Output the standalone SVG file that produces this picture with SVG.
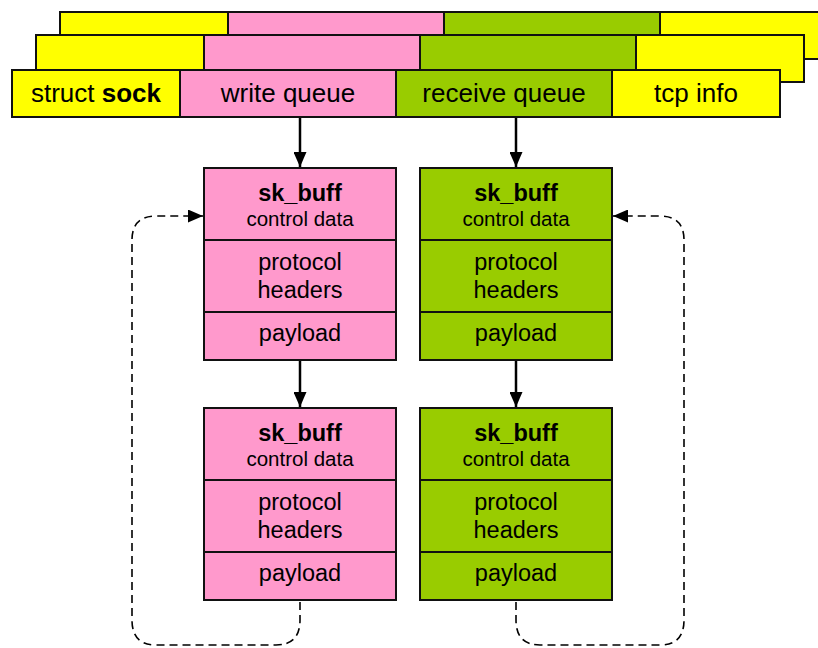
<svg xmlns="http://www.w3.org/2000/svg" width="818" height="648" viewBox="0 0 818 648">
<defs>
<marker id="ah" viewBox="0 0 15 13" refX="15" refY="6.5" markerWidth="15" markerHeight="13" markerUnits="userSpaceOnUse" orient="auto">
<path d="M0,0 L15,6.5 L0,13 Z" fill="#000"/>
</marker>
</defs>
<style>
.b{stroke:#111;stroke-width:2}
.y{fill:#ffff00}
.p{fill:#ff99cc}
.g{fill:#99cc00}
text{font-family:"Liberation Sans",Arial,sans-serif;fill:#000;text-anchor:middle}
.t{font-size:26px}
.m{font-size:23.5px}
.s{font-size:20.5px}
.bold{font-weight:bold}
.c{fill:none;stroke:#000;stroke-width:2.5}
.d{fill:none;stroke:#000;stroke-width:1.6;stroke-dasharray:8,5}
</style>
<g id="sock-back2">
<rect class="b y" x="60" y="12" width="168" height="47"/>
<rect class="b p" x="228" y="12" width="216" height="47"/>
<rect class="b g" x="444" y="12" width="216" height="47"/>
<rect class="b y" x="660" y="12" width="168" height="47"/>
</g>
<g id="sock-back1">
<rect class="b y" x="36" y="35" width="168" height="47"/>
<rect class="b p" x="204" y="35" width="216" height="47"/>
<rect class="b g" x="420" y="35" width="216" height="47"/>
<rect class="b y" x="636" y="35" width="168" height="47"/>
</g>
<g id="struct-sock">
<rect class="b y" x="12" y="70" width="168" height="47"/>
<text class="t" x="96" y="102">struct <tspan class="bold">sock</tspan></text>
</g>
<g id="write-queue">
<rect class="b p" x="180" y="70" width="216" height="47"/>
<text class="t" x="288" y="102">write queue</text>
</g>
<g id="receive-queue">
<rect class="b g" x="396" y="70" width="216" height="47"/>
<text class="t" x="504" y="102">receive queue</text>
</g>
<g id="tcp-info">
<rect class="b y" x="612" y="70" width="168" height="47"/>
<text class="t" x="696" y="102">tcp info</text>
</g>
<g id="skb-w1">
<rect class="b p" x="204" y="168" width="192" height="72"/>
<rect class="b p" x="204" y="240" width="192" height="72"/>
<rect class="b p" x="204" y="312" width="192" height="48"/>
<text class="m bold" x="300" y="201">sk_buff</text>
<text class="s" x="300" y="226">control data</text>
<text class="m" x="300" y="270">protocol</text>
<text class="m" x="300" y="298">headers</text>
<text class="m" x="300" y="341">payload</text>
</g>
<g id="skb-w2">
<rect class="b p" x="204" y="408" width="192" height="72"/>
<rect class="b p" x="204" y="480" width="192" height="72"/>
<rect class="b p" x="204" y="552" width="192" height="48"/>
<text class="m bold" x="300" y="441">sk_buff</text>
<text class="s" x="300" y="466">control data</text>
<text class="m" x="300" y="510">protocol</text>
<text class="m" x="300" y="538">headers</text>
<text class="m" x="300" y="581">payload</text>
</g>
<g id="skb-r1">
<rect class="b g" x="420" y="168" width="192" height="72"/>
<rect class="b g" x="420" y="240" width="192" height="72"/>
<rect class="b g" x="420" y="312" width="192" height="48"/>
<text class="m bold" x="516" y="201">sk_buff</text>
<text class="s" x="516" y="226">control data</text>
<text class="m" x="516" y="270">protocol</text>
<text class="m" x="516" y="298">headers</text>
<text class="m" x="516" y="341">payload</text>
</g>
<g id="skb-r2">
<rect class="b g" x="420" y="408" width="192" height="72"/>
<rect class="b g" x="420" y="480" width="192" height="72"/>
<rect class="b g" x="420" y="552" width="192" height="48"/>
<text class="m bold" x="516" y="441">sk_buff</text>
<text class="s" x="516" y="466">control data</text>
<text class="m" x="516" y="510">protocol</text>
<text class="m" x="516" y="538">headers</text>
<text class="m" x="516" y="581">payload</text>
</g>
<g id="connectors">
<line class="c" x1="300" y1="118" x2="300" y2="167" marker-end="url(#ah)"/>
<line class="c" x1="516" y1="118" x2="516" y2="167" marker-end="url(#ah)"/>
<line class="c" x1="300" y1="361" x2="300" y2="407" marker-end="url(#ah)"/>
<line class="c" x1="516" y1="361" x2="516" y2="407" marker-end="url(#ah)"/>
<path class="d" d="M300,602 L300,620 Q300,645 276,645 L156,645 Q132,645 132,620 L132,240 Q132,216 156,216 L203,216" marker-end="url(#ah)"/>
<path class="d" d="M516,602 L516,620 Q516,645 540,645 L660,645 Q684,645 684,620 L684,240 Q684,216 660,216 L613,216" marker-end="url(#ah)"/>
</g>
</svg>
